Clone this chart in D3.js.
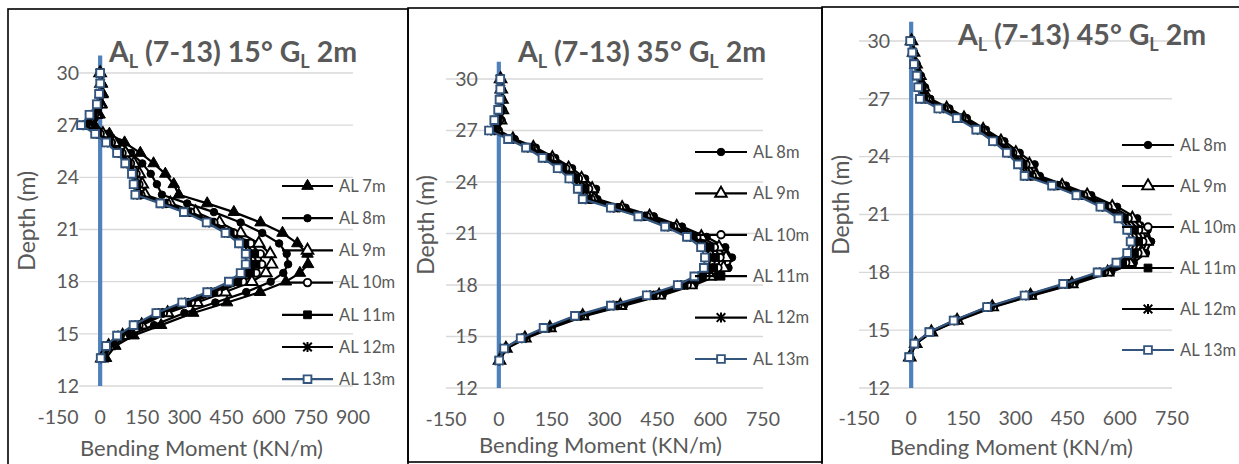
<!DOCTYPE html>
<html>
<head>
<meta charset="utf-8">
<script src="https://cdn.jsdelivr.net/npm/d3@7/dist/d3.min.js"></script>
<style>
  html, body { margin: 0; padding: 0; background: #fff; }
  svg { display: block; }
  text { font-family: Lato, "Open Sans", "Noto Sans", sans-serif; }
</style>
</head>
<body>
<svg id="chart" width="1239" height="464"></svg>
<script>
// Pile node depths (m), shared by every series
const depthM = [30, 29.4, 28.8, 28.2, 27.6, 27.0, 26.5, 26.0, 25.4, 24.8, 24.2, 23.6, 23.0, 22.5, 22.0,
  21.4, 20.8, 20.2, 19.6, 19.0, 18.5, 18.0, 17.4, 16.8, 16.2, 15.5, 14.9, 14.3, 13.6];

// Bending moment (kN/m) — 15° inclination
const m15_AL7  = [0, 6, 10, 6, -2, -20, 33, 87, 143, 190, 232, 262, 280, 381, 476, 571, 649, 702, 738, 740, 711, 661, 569, 452, 331, 217, 119, 54, 21];
const m15_AL8  = [0, 4, 8, 4, -6, -32, 25, 70, 110, 150, 180, 202, 220, 310, 405, 500, 577, 637, 664, 669, 652, 607, 520, 410, 300, 192, 102, 42, 12];
const m15_AL9  = [0, 3, 4, 0, -15, -45, 10, 50, 90, 120, 140, 150, 160, 250, 340, 425, 500, 565, 605, 610, 590, 540, 445, 345, 240, 148, 80, 30, 6];
const m15_AL10 = [0, 2, 2, -4, -20, -50, 0, 40, 78, 108, 128, 138, 145, 238, 322, 405, 475, 535, 570, 575, 555, 508, 420, 325, 225, 138, 72, 27, 5];
const m15_AL11 = [0, 1, 0, -6, -25, -55, -8, 32, 70, 100, 120, 130, 138, 228, 312, 395, 463, 515, 550, 555, 535, 490, 405, 312, 215, 130, 68, 25, 4];
const m15_AL12 = [0, 1, -2, -9, -30, -60, -12, 27, 65, 95, 117, 125, 132, 222, 305, 388, 455, 505, 535, 538, 518, 475, 395, 302, 208, 125, 64, 23, 3];
const m15_AL13 = [0, 0, -4, -12, -38, -68, -18, 21, 60, 89, 113, 119, 125, 214, 298, 379, 446, 494, 518, 518, 500, 458, 381, 292, 200, 119, 60, 21, 2];

// Bending moment (kN/m) — 35° inclination
const m35_AL8  = [6, 8, 10, 12, 8, 0, 45, 105, 160, 208, 245, 276, 280, 360, 440, 520, 590, 643, 662, 652, 615, 555, 465, 355, 245, 150, 78, 22, 3];
const m35_AL9  = [5, 7, 9, 10, 5, -5, 40, 98, 152, 198, 235, 265, 270, 350, 428, 505, 575, 625, 645, 638, 600, 545, 455, 345, 238, 145, 74, 20, 2];
const m35_AL10 = [5, 6, 7, 8, 2, -10, 36, 92, 145, 190, 226, 255, 262, 342, 420, 496, 562, 612, 628, 622, 588, 535, 447, 338, 232, 140, 71, 19, 2];
const m35_AL11 = [4, 5, 6, 5, -3, -15, 33, 87, 138, 182, 218, 245, 254, 334, 412, 488, 552, 600, 615, 610, 578, 526, 438, 332, 227, 136, 68, 18, 1];
const m35_AL12 = [4, 5, 4, 2, -8, -22, 30, 82, 131, 174, 209, 234, 246, 326, 404, 480, 543, 587, 600, 596, 566, 517, 429, 325, 222, 132, 65, 16, 1];
const m35_AL13 = [4, 4, 2, -2, -13, -28, 26, 77, 124, 167, 200, 224, 238, 318, 396, 472, 534, 574, 585, 582, 555, 508, 420, 318, 216, 127, 62, 15, 1];

// Bending moment (kN/m) — 45° inclination
const m45_AL8  = [2, 8, 16, 28, 40, 55, 110, 160, 215, 268, 312, 355, 370, 445, 518, 592, 650, 680, 690, 675, 640, 575, 470, 350, 238, 135, 60, 14, -3];
const m45_AL9  = [1, 7, 14, 25, 36, 48, 102, 152, 207, 258, 301, 340, 358, 434, 506, 578, 636, 666, 678, 664, 628, 565, 462, 343, 233, 132, 58, 13, -4];
const m45_AL10 = [0, 6, 12, 22, 32, 42, 95, 146, 201, 250, 292, 330, 348, 425, 496, 566, 624, 654, 666, 652, 617, 556, 455, 338, 228, 129, 56, 12, -4];
const m45_AL11 = [-1, 5, 11, 20, 28, 36, 89, 141, 196, 245, 286, 322, 340, 418, 488, 557, 613, 642, 654, 642, 608, 549, 449, 334, 224, 126, 55, 11, -5];
const m45_AL12 = [-2, 4, 9, 18, 24, 30, 83, 136, 191, 240, 280, 314, 333, 411, 481, 550, 604, 631, 642, 631, 598, 542, 443, 330, 221, 124, 53, 10, -5];
const m45_AL13 = [-3, 3, 8, 16, 20, 25, 78, 131, 187, 235, 275, 307, 326, 405, 475, 544, 596, 621, 631, 621, 590, 536, 437, 326, 218, 122, 52, 9, -6];

// Axis ticks
const depthTicks = [12, 15, 18, 21, 24, 27, 30];
const momentTicks15 = [-150, 0, 150, 300, 450, 600, 750, 900];
const momentTicks = [-150, 0, 150, 300, 450, 600, 750];

const titleAngles = ["15°", "35°", "45°"];

// Series styling: marker type per embedment length
const seriesStyle = {
  "AL 7m":  { marker: "triFill" },
  "AL 8m":  { marker: "circFill" },
  "AL 9m":  { marker: "triOpen" },
  "AL 10m": { marker: "circOpen" },
  "AL 11m": { marker: "sqFill" },
  "AL 12m": { marker: "star" },
  "AL 13m": { marker: "sqOpen" }
};

const panels = [
  {
    angle: titleAngles[0],
    frame: { x: 8, y: 9, w: 400, h: 470 },
    xDomain: [-150, 900], xRange: [58, 353], gridFrom: -75,
    yRange: [386, 55.6],
    xTicks: momentTicks15,
    title: { x: 233, y: 62 },
    xTitleY: 456, yTitleX: 35, tickY: 424,
    legend: { x1: 282, x2: 333, y0: 186, dy: 32.2 },
    series: [["AL 7m", m15_AL7], ["AL 8m", m15_AL8], ["AL 9m", m15_AL9], ["AL 10m", m15_AL10],
             ["AL 11m", m15_AL11], ["AL 12m", m15_AL12], ["AL 13m", m15_AL13]]
  },
  {
    angle: titleAngles[1],
    frame: { x: 408, y: 8, w: 414, h: 454 },
    xDomain: [-150, 750], xRange: [446, 763], gridFrom: -150,
    yRange: [388, 61.8],
    xTicks: momentTicks,
    title: { x: 642, y: 62 },
    xTitleY: 453, yTitleX: 434, tickY: 426,
    legend: { x1: 695, x2: 747, y0: 152, dy: 41.4 },
    series: [["AL 8m", m35_AL8], ["AL 9m", m35_AL9], ["AL 10m", m35_AL10],
             ["AL 11m", m35_AL11], ["AL 12m", m35_AL12], ["AL 13m", m35_AL13]]
  },
  {
    angle: titleAngles[2],
    frame: { x: 822, y: 7, w: 430, h: 470 },
    xDomain: [-150, 750], xRange: [859, 1172], gridFrom: -150,
    yRange: [388, 21.7],
    xTicks: momentTicks,
    title: { x: 1082, y: 45 },
    xTitleY: 455, yTitleX: 849, tickY: 425,
    legend: { x1: 1122, x2: 1174, y0: 145, dy: 41 },
    series: [["AL 8m", m45_AL8], ["AL 9m", m45_AL9], ["AL 10m", m45_AL10],
             ["AL 11m", m45_AL11], ["AL 12m", m45_AL12], ["AL 13m", m45_AL13]]
  }
];

const svg = d3.select("#chart");
const TEXT = "#595959";
const GRID = "#d9d9d9";
const AXIS_BLUE = "#4f81bd";
const NAVY = "#34557d";

function markerPath(type) {
  switch (type) {
    case "triFill":
    case "triOpen":
      return d3.symbol(d3.symbolTriangle, 58)();
    case "circFill":
    case "circOpen":
      return d3.symbol(d3.symbolCircle, 44)();
    case "sqFill":
    case "sqOpen":
      return d3.symbol(d3.symbolSquare, 60)();
    case "star": {
      const r = 4.3;
      return `M${-r},${-r}L${r},${r}M${-r},${r}L${r},${-r}M0,${-r - 0.7}L0,${r + 0.7}`;
    }
  }
}

function drawMarker(g, type, color) {
  const p = g.append("path").attr("d", markerPath(type));
  if (type === "triOpen" || type === "circOpen" || type === "sqOpen") {
    p.attr("fill", "#fff").attr("stroke", color).attr("stroke-width", 1.9);
  } else if (type === "star") {
    p.attr("fill", "none").attr("stroke", color).attr("stroke-width", 2);
  } else {
    p.attr("fill", color).attr("stroke", color).attr("stroke-width", 1);
  }
}

panels.forEach(P => {
  const x = d3.scaleLinear().domain(P.xDomain).range(P.xRange);
  const y = d3.scaleLinear().domain([12, 31]).range(P.yRange);
  const g = svg.append("g");

  // frame
  g.append("rect")
    .attr("x", P.frame.x).attr("y", P.frame.y)
    .attr("width", P.frame.w).attr("height", P.frame.h)
    .attr("fill", "none").attr("stroke", "#000").attr("stroke-width", 1.6);

  // horizontal gridlines
  g.append("g").selectAll("line").data(depthTicks).join("line")
    .attr("x1", x(P.gridFrom)).attr("x2", x(P.xDomain[1]))
    .attr("y1", d => y(d)).attr("y2", d => y(d))
    .attr("stroke", GRID).attr("stroke-width", 1.4);

  // vertical axis (crosses at zero moment)
  g.append("line")
    .attr("x1", x(0)).attr("x2", x(0))
    .attr("y1", y(12)).attr("y2", y(31))
    .attr("stroke", AXIS_BLUE).attr("stroke-width", 4.2);

  // y tick labels, beside the axis
  g.append("g").selectAll("text").data(depthTicks).join("text")
    .attr("x", x(0) - 21).attr("y", d => y(d))
    .attr("dy", "0.35em")
    .attr("text-anchor", "end")
    .attr("font-size", 19.5).attr("fill", TEXT)
    .text(d => d);

  // x tick labels
  g.append("g").selectAll("text").data(P.xTicks).join("text")
    .attr("x", d => x(d)).attr("y", P.tickY)
    .attr("text-anchor", "middle")
    .attr("font-size", 19.5).attr("fill", TEXT)
    .text(d => d);

  // axis titles
  g.append("text")
    .attr("x", (x(P.xDomain[0]) + x(P.xDomain[1])) / 2 - 4)
    .attr("y", P.xTitleY)
    .attr("text-anchor", "middle")
    .attr("font-size", 22).attr("fill", TEXT)
    .text("Bending Moment (KN/m)");

  g.append("text")
    .attr("transform", `translate(${P.yTitleX},${(y(12) + y(31)) / 2}) rotate(-90)`)
    .attr("text-anchor", "middle")
    .attr("font-size", 23).attr("fill", TEXT)
    .text("Depth (m)");

  // title with subscripts
  const t = g.append("text")
    .attr("x", P.title.x).attr("y", P.title.y)
    .attr("text-anchor", "middle")
    .attr("font-size", 28.5).attr("font-weight", "bold").attr("fill", TEXT);
  t.append("tspan").text("A");
  t.append("tspan").attr("font-size", 18).attr("dy", 6).text("L");
  t.append("tspan").attr("dy", -6).text(` (7-13) ${P.angle} G`);
  t.append("tspan").attr("font-size", 18).attr("dy", 6).text("L");
  t.append("tspan").attr("dy", -6).text(" 2m");

  // series lines and markers
  const line = d3.line().x(d => x(d[1])).y(d => y(d[0]));
  P.series.forEach(([name, vals]) => {
    const st = seriesStyle[name];
    const color = name === "AL 13m" ? NAVY : "#000";
    const pts = depthM.map((d, i) => [d, vals[i]]);
    g.append("path").datum(pts)
      .attr("d", line)
      .attr("fill", "none").attr("stroke", color).attr("stroke-width", 2.2)
      .attr("stroke-linejoin", "round");
    const mg = g.append("g");
    pts.forEach(p => {
      const m = mg.append("g").attr("transform", `translate(${x(p[1])},${y(p[0])})`);
      drawMarker(m, st.marker, color);
    });
  });

  // legend
  P.series.forEach(([name], i) => {
    const st = seriesStyle[name];
    const color = name === "AL 13m" ? NAVY : "#000";
    const ly = P.legend.y0 + i * P.legend.dy;
    const lg = g.append("g");
    lg.append("line")
      .attr("x1", P.legend.x1).attr("x2", P.legend.x2)
      .attr("y1", ly).attr("y2", ly)
      .attr("stroke", color).attr("stroke-width", 2.2);
    const m = lg.append("g").attr("transform", `translate(${(P.legend.x1 + P.legend.x2) / 2},${ly})`);
    drawMarker(m, st.marker, color);
    lg.append("text")
      .attr("x", P.legend.x2 + 6).attr("y", ly)
      .attr("dy", "0.35em")
      .attr("font-size", 16.5).attr("fill", TEXT)
      .text(name);
  });
});
</script>
</body>
</html>
